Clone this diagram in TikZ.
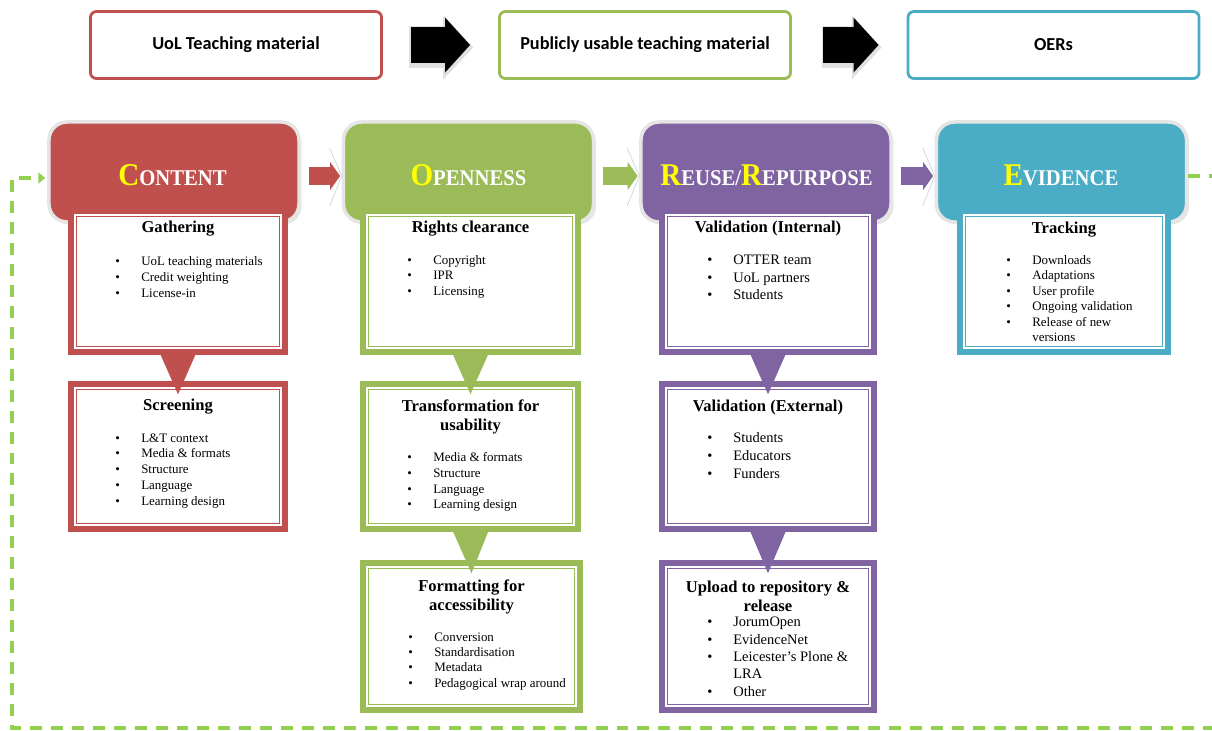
\documentclass[tikz,border=0pt]{standalone}
\usepackage{fontspec}
\setmainfont{Liberation Serif}
\newfontfamily\calfont{Carlito}
\usetikzlibrary{arrows.meta,calc,shadows}
\definecolor{cRed}{HTML}{C0504D}
\definecolor{cGrn}{HTML}{9BBB59}
\definecolor{cPur}{HTML}{8064A2}
\definecolor{cBlu}{HTML}{4BACC6}
\definecolor{cDash}{HTML}{92D050}
\definecolor{cYel}{HTML}{FFFF00}
\newcommand\hdr[2]{\scalebox{0.92}[1]{{\color{cYel}\fontsize{22.5}{22.5}\selectfont #1}\fontsize{16}{16}\selectfont #2}}
\newcommand\bl{\makebox[18.5pt][l]{\textbullet}}
\newcommand\fst{\rule{0pt}{0.8em}}
\newcommand\ind{\hspace*{18.5pt}}
\begin{document}
\begin{tikzpicture}[x=0.025cm, y=-0.025cm,
  topbox/.style={draw=#1, line width=2pt, rounded corners=0.15cm, fill=white,
    minimum width=7.275cm, minimum height=1.675cm, inner sep=0,
    font=\calfont\bfseries\fontsize{13}{15}\selectfont},
  bigarr/.style={line width=0.9cm, draw=black, -{Triangle[length=0.625cm, width=1.375cm, line width=0pt]}},
  bigsh/.style={line width=1.05cm, draw=black!12, -{Triangle[length=0.75cm, width=1.6cm, line width=0pt]}},
  header/.style={fill=#1, draw=black!10, line width=2.5pt, rounded corners=0.45cm,
    minimum width=6.25cm, minimum height=2.5cm,
    drop shadow={opacity=0.22, shadow xshift=0.06cm, shadow yshift=-0.06cm}},
  hdtext/.style={text=white, font=\bfseries, inner sep=0, text depth=0pt},
  hconn/.style={line width=0.45cm, draw=#1, -{Triangle[length=0.25cm, width=0.7cm, line width=0pt]}},
  chev/.style={draw=black!15, line width=0.6pt},
  subbox/.style={draw=#1, fill=white, line width=4.25pt, inner sep=0,
    path picture={\draw[#1, line width=0.7pt]
      ([xshift=3.9pt,yshift=-3.9pt]path picture bounding box.north west) rectangle
      ([xshift=-3.9pt,yshift=3.9pt]path picture bounding box.south east);}},
  ttl/.style={font=\bfseries\fontsize{11.8}{13.5}\selectfont, align=center, inner sep=0},
  lst/.style={anchor=north west, inner sep=0, align=left, font=\fontsize{9.2}{#1}\selectfont},
  lstB/.style={anchor=north west, inner sep=0, align=left, font=\fontsize{10.3}{#1}\selectfont},
  loopln/.style={draw=cDash, line width=2.6pt, dash pattern=on 8.5pt off 6.4pt,
    -{Triangle[length=0.17cm, width=0.28cm, line width=0pt]}}
]
\useasboundingbox (0,0) rectangle (1212,731);

% top row
\node[topbox=cRed] (t1) at (236,45) {UoL Teaching material};
\node[topbox=cGrn] (t2) at (645,45) {Publicly usable teaching material};
\node[topbox=cBlu] (t3) at (1053.5,45) {OERs};
\draw[bigsh] ([xshift=0.66cm,yshift=-0.06cm]t1.east) -- ([xshift=-0.62cm,yshift=-0.06cm]t2.west);
\draw[bigsh] ([xshift=0.74cm,yshift=-0.06cm]t2.east) -- ([xshift=-0.62cm,yshift=-0.06cm]t3.west);
\draw[bigarr] ([xshift=0.7cm]t1.east) -- ([xshift=-0.7cm]t2.west);
\draw[bigarr] ([xshift=0.78cm]t2.east) -- ([xshift=-0.7cm]t3.west);

% headers
\node[header=cRed] (hC) at (174,172) {};
\node[header=cGrn] (hO) at (468.5,172) {};
\node[header=cPur] (hR) at (766,172) {};
\node[header=cBlu] (hE) at (1061.5,172) {};

% header connectors
\draw[chev] ([xshift=-0.3cm,yshift=0.6cm]hO.west) -- ([xshift=0cm,yshift=-0.1cm]hO.west) -- ([xshift=-0.3cm,yshift=-0.85cm]hO.west);
\draw[chev] ([xshift=-0.3cm,yshift=0.6cm]hR.west) -- ([xshift=0cm,yshift=-0.1cm]hR.west) -- ([xshift=-0.3cm,yshift=-0.85cm]hR.west);
\draw[chev] ([xshift=-0.3cm,yshift=0.6cm]hE.west) -- ([xshift=0cm,yshift=-0.1cm]hE.west) -- ([xshift=-0.3cm,yshift=-0.85cm]hE.west);
\draw[hconn=cRed] ([xshift=0.2cm,yshift=-0.1cm]hC.east) -- ([xshift=-0.04cm,yshift=-0.1cm]hO.west);
\draw[hconn=cGrn] ([xshift=0.2cm,yshift=-0.1cm]hO.east) -- ([xshift=-0.04cm,yshift=-0.1cm]hR.west);
\draw[hconn=cPur] ([xshift=0.2cm,yshift=-0.1cm]hR.east) -- ([xshift=-0.04cm,yshift=-0.1cm]hE.west);

\node[hdtext] (hCt) at (172.5,175.5) {\hdr{C}{ONTENT}};
\node[hdtext] (hOt) at (468.5,175.5) {\hdr{O}{PENNESS}};
\node[hdtext] (hRt) at (766.5,175.5) {\hdr{R}{EUSE/}\hdr{R}{EPURPOSE}};
\node[hdtext] (hEt) at (1061,175.5) {\hdr{E}{VIDENCE}};

% sub boxes
\node[subbox=cRed, minimum width=5.35cm, minimum height=3.525cm] (g1) at (178,281.5) {};
\node[subbox=cRed, minimum width=5.35cm, minimum height=3.625cm] (s1) at (178,456.5) {};
\node[subbox=cGrn, minimum width=5.375cm, minimum height=3.525cm] (r1) at (470.5,281.5) {};
\node[subbox=cGrn, minimum width=5.375cm, minimum height=3.625cm] (tr) at (470.5,456.5) {};
\node[subbox=cGrn, minimum width=5.425cm, minimum height=3.675cm] (fo) at (471.5,636.5) {};
\node[subbox=cPur, minimum width=5.275cm, minimum height=3.525cm] (vi) at (768,281.5) {};
\node[subbox=cPur, minimum width=5.275cm, minimum height=3.625cm] (ve) at (768,456.5) {};
\node[subbox=cPur, minimum width=5.275cm, minimum height=3.675cm] (up) at (768,636.5) {};
\node[subbox=cBlu, minimum width=5.2cm, minimum height=3.525cm] (tk) at (1064,281.5) {};

% down pointers
\fill[cRed] ([xshift=-0.5cm,yshift=0.15cm]g1.south) -- ([xshift=0.5cm,yshift=0.15cm]g1.south) -- ([yshift=-0.33cm]s1.north) -- cycle;
\fill[cGrn] ([xshift=-0.5cm,yshift=0.15cm]r1.south) -- ([xshift=0.5cm,yshift=0.15cm]r1.south) -- ([yshift=-0.33cm]tr.north) -- cycle;
\fill[cGrn] ([xshift=-0.5cm,yshift=0.15cm]tr.south) -- ([xshift=0.5cm,yshift=0.15cm]tr.south) -- ([yshift=-0.33cm]fo.north) -- cycle;
\fill[cPur] ([xshift=-0.5cm,yshift=0.15cm]vi.south) -- ([xshift=0.5cm,yshift=0.15cm]vi.south) -- ([yshift=-0.33cm]ve.north) -- cycle;
\fill[cPur] ([xshift=-0.5cm,yshift=0.15cm]ve.south) -- ([xshift=0.5cm,yshift=0.15cm]ve.south) -- ([yshift=-0.33cm]up.north) -- cycle;

% titles
\node[ttl] (g1t) at (178,229) {Gathering};
\node[ttl] (s1t) at (178,407) {Screening};
\node[ttl] (r1t) at (470.5,229) {Rights clearance};
\node[ttl] (trt) at (470.5,417) {Transformation for\\usability};
\node[ttl] (fot) at (471.5,597) {Formatting for\\accessibility};
\node[ttl] (vit) at (768,229) {Validation (Internal)};
\node[ttl] (vet) at (768,408) {Validation (External)};
\node[ttl] (upt) at (768,596) {Upload to repository \&\\release};
\node[ttl] (tkt) at (1064,230) {Tracking};

% lists
\node[lst=11.3pt] (g1l) at (115,254.6) {\fst\bl UoL teaching materials\\\bl Credit weighting\\\bl License-in};
\node[lst=11.2pt] (s1l) at (115,431.6) {\fst\bl L\&T context\\\bl Media \& formats\\\bl Structure\\\bl Language\\\bl Learning design};
\node[lst=11pt] (r1l) at (407,253.6) {\fst\bl Copyright\\\bl IPR\\\bl Licensing};
\node[lst=11.3pt] (trl) at (407,450.6) {\fst\bl Media \& formats\\\bl Structure\\\bl Language\\\bl Learning design};
\node[lst=10.9pt] (fol) at (408,630.6) {\fst\bl Conversion\\\bl Standardisation\\\bl Metadata\\\bl Pedagogical wrap around};
\node[lst=11.05pt] (tkl) at (1006,253.6) {\fst\bl Downloads\\\bl Adaptations\\\bl User profile\\\bl Ongoing validation\\\bl Release of new\\\ind versions};
\node[lstB=12.4pt] (vil) at (707,252.7) {\fst\bl OTTER team\\\bl UoL partners\\\bl Students};
\node[lstB=12.75pt] (vel) at (707,430.7) {\fst\bl Students\\\bl Educators\\\bl Funders};
\node[lstB=12.4pt] (upl) at (707,614.7) {\fst\bl JorumOpen\\\bl EvidenceNet\\\bl Leicester's Plone \&\\\ind LRA\\\bl Other};

% feedback loop
\coordinate (lpR) at (1240,728);
\coordinate (lpL) at (12,728);
\draw[loopln] ([yshift=-0.1cm]hE.east) -| (lpR) -- (lpL) |- ([xshift=-0.05cm,yshift=-0.15cm]hC.west);
\end{tikzpicture}
\end{document}
